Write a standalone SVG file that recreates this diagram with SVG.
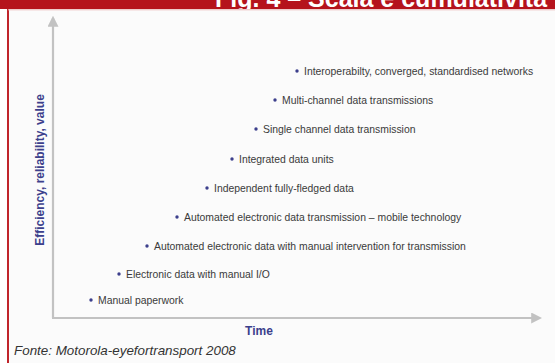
<svg xmlns="http://www.w3.org/2000/svg" width="555" height="363" viewBox="0 0 555 363">
<defs>
<style>
.item{font-family:"Liberation Sans",Arial,sans-serif;font-size:10.4px;fill:#3a3a3a}
.dot{fill:#3c3f8c}
.axis{stroke:#c2c2c2;stroke-width:2.2;fill:none}
.lab{font-family:"Liberation Sans",Arial,sans-serif;font-size:12px;font-weight:bold;fill:#3c3f8c}
</style>
<marker id="ah" viewBox="0 0 10 10" refX="8" refY="5" markerWidth="5" markerHeight="5" orient="auto" markerUnits="strokeWidth">
<path d="M0,0 L10,5 L0,10 z" fill="#c2c2c2"/>
</marker>
<clipPath id="bar"><rect x="0" y="0" width="555" height="9"/></clipPath>
</defs>
<rect x="0" y="0" width="555" height="363" fill="#ffffff"/>
<rect x="8" y="9" width="547" height="354" fill="#fbfbfb"/>
<line x1="8" y1="9" x2="8" y2="363" stroke="#c0252b" stroke-width="2"/>
<rect x="0" y="0" width="555" height="9" fill="#b5131c"/>
<line x1="8" y1="9.8" x2="555" y2="9.8" stroke="#e9b7b7" stroke-width="1"/>
<text x="215" y="7" clip-path="url(#bar)" font-family="Liberation Sans,Arial,sans-serif" font-size="25" font-weight="bold" fill="#ffffff">Fig. 4 – Scala e cumulatività</text>
<g id="connectors">
<path class="axis" d="M53,318 L53,18" marker-end="url(#ah)"/>
<path class="axis" d="M52,318 L540,318" marker-end="url(#ah)"/>
</g>
<g id="axis-labels">
<text class="lab" transform="translate(44,170) rotate(-90)" text-anchor="middle" font-size="11.6">Efficiency, reliability, value</text>
<text class="lab" x="259" y="335" text-anchor="middle">Time</text>
</g>
<g id="n1"><circle class="dot" cx="91" cy="300" r="1.7"/><text class="item" x="98" y="303.5">Manual paperwork</text></g>
<g id="n2"><circle class="dot" cx="119" cy="274" r="1.7"/><text class="item" x="126" y="277.5">Electronic data with manual I/O</text></g>
<g id="n3"><circle class="dot" cx="147" cy="246" r="1.7"/><text class="item" x="154" y="249.5">Automated electronic data with manual intervention for transmission</text></g>
<g id="n4"><circle class="dot" cx="177" cy="217" r="1.7"/><text class="item" x="184" y="220.5">Automated electronic data transmission – mobile technology</text></g>
<g id="n5"><circle class="dot" cx="207" cy="188" r="1.7"/><text class="item" x="214" y="191.5">Independent fully-fledged data</text></g>
<g id="n6"><circle class="dot" cx="232" cy="159" r="1.7"/><text class="item" x="239" y="162.5">Integrated data units</text></g>
<g id="n7"><circle class="dot" cx="256" cy="129" r="1.7"/><text class="item" x="263" y="132.5">Single channel data transmission</text></g>
<g id="n8"><circle class="dot" cx="275" cy="100" r="1.7"/><text class="item" x="282" y="103.5">Multi-channel data transmissions</text></g>
<g id="n9"><circle class="dot" cx="297" cy="71" r="1.7"/><text class="item" x="304" y="74.5">Interoperabilty, converged, standardised networks</text></g>
<text x="14" y="355" font-family="Liberation Sans,Arial,sans-serif" font-size="13.4" font-style="italic" fill="#333333">Fonte: Motorola-eyefortransport 2008</text>
</svg>
